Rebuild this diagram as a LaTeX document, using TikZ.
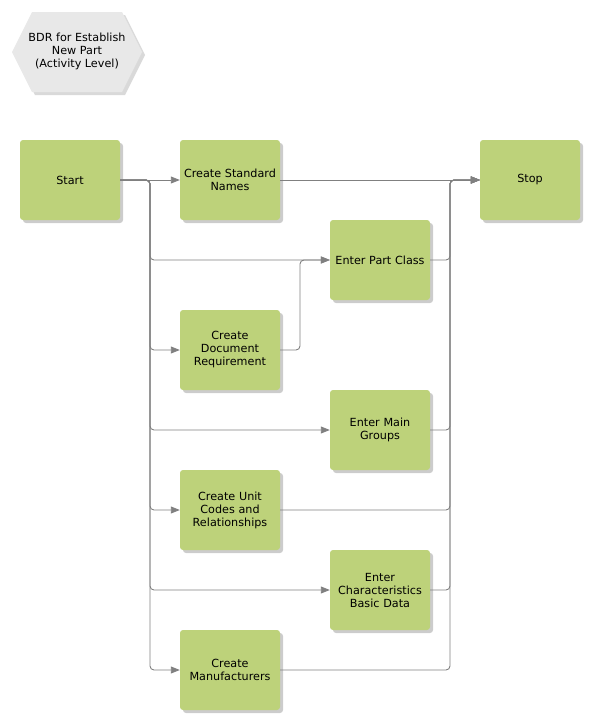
\documentclass[tikz,border=0pt]{standalone}
\usepackage{fontspec}
\setmainfont{DejaVu Sans}
\usetikzlibrary{arrows.meta,shadows,calc}
\definecolor{boxgreen}{HTML}{BDD27A}
\definecolor{linegray}{HTML}{808080}
\definecolor{hexgray}{HTML}{E8E8E8}
\tikzset{
  stepbox/.style={draw=none, fill=boxgreen, rounded corners=3pt, minimum width=100pt, minimum height=80pt,
    text width=98pt, align=center, inner sep=1pt, font=\fontsize{11.2}{13}\selectfont,
    drop shadow={shadow xshift=3pt, shadow yshift=-3pt, fill=black, opacity=0.2}},
  conn/.style={draw=linegray, line width=0.9pt, rounded corners=4pt, -{Triangle[length=9pt,width=7pt]}},
}
\begin{document}
\begin{tikzpicture}[x=1pt,y=-1pt]
\useasboundingbox (0,0) rectangle (590,720);
% title hexagon
\fill[black,opacity=0.15] (35,15) -- (125,15) -- (145,55) -- (125,95) -- (35,95) -- (15,55) -- cycle;
\fill[hexgray] (32,12) -- (122,12) -- (142,52) -- (122,92) -- (32,92) -- (12,52) -- cycle;
\node[align=center, font=\fontsize{11.2}{13}\selectfont] (title) at (77,51) {BDR for Establish\\New Part\\(Activity Level)};
% boxes
\node[stepbox] (start) at (70,180) {Start};
\node[stepbox] (csn) at (230,180) {Create Standard\\Names};
\node[stepbox] (stop) at (530,180) {Stop};
\node[stepbox] (epc) at (380,260) {Enter Part Class};
\node[stepbox] (cdr) at (230,350) {Create\\Document\\Requirement};
\node[stepbox] (emg) at (380,430) {Enter Main\\Groups};
\node[stepbox] (cuc) at (230,510) {Create Unit\\Codes and\\Relationships};
\node[stepbox] (ecb) at (380,590) {Enter\\Characteristics\\Basic Data};
\node[stepbox] (cm) at (230,670) {Create\\Manufacturers};
% from start
\draw[conn] (start.east) -- (csn.west);
\draw[conn] (start.east) -- (150,180) |- (epc.west);
\draw[conn] (start.east) -- (150,180) |- (cdr.west);
\draw[conn] (start.east) -- (150,180) |- (emg.west);
\draw[conn] (start.east) -- (150,180) |- (cuc.west);
\draw[conn] (start.east) -- (150,180) |- (ecb.west);
\draw[conn] (start.east) -- (150,180) |- (cm.west);
% doc req to part class
\draw[conn] (cdr.east) -- (300,350) |- (epc.west);
% to stop
\draw[conn] (csn.east) -- (stop.west);
\draw[conn] (epc.east) -- (450,260) |- (stop.west);
\draw[conn] (emg.east) -- (450,430) |- (stop.west);
\draw[conn] (cuc.east) -- (450,510) |- (stop.west);
\draw[conn] (ecb.east) -- (450,590) |- (stop.west);
\draw[conn] (cm.east) -- (450,670) |- (stop.west);
\end{tikzpicture}
\end{document}
